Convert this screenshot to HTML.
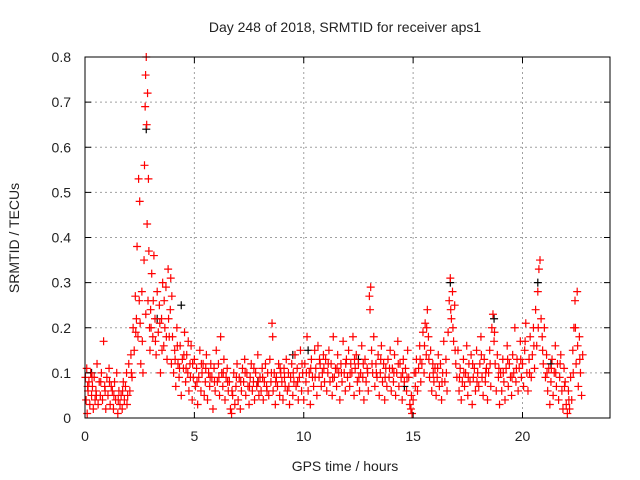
<!DOCTYPE html>
<html><head><meta charset="utf-8"><style>
html,body{margin:0;padding:0;background:#fff;}
svg{display:block;font-family:"Liberation Sans",sans-serif;}
</style></head><body>
<svg id="chart" width="640" height="480" viewBox="0 0 640 480">
<rect width="640" height="480" fill="#fff"/>
<g id="grid"></g>
<g id="pts"></g>
<g id="axes"></g>
<text x="345" y="32" font-size="14" text-anchor="middle" fill="#222">Day 248 of 2018, SRMTID for receiver aps1</text>
<text x="345" y="471" font-size="14" text-anchor="middle" fill="#222">GPS time / hours</text>
<text transform="translate(19,238) rotate(-90)" font-size="14" text-anchor="middle" fill="#222">SRMTID / TECUs</text>
</svg>
<script>
const xTicks=[0,5,10,15,20];
const yTicks=[0,0.1,0.2,0.3,0.4,0.5,0.6,0.7,0.8];
const yTickLabels=["0","0.1","0.2","0.3","0.4","0.5","0.6","0.7","0.8"];
const blackPoints=[[0.3,0.1],[2.8,0.64],[3.3,0.22],[4.4,0.25],[7.9,0.08],[9.5,0.14],[10.2,0.15],[12.5,0.13],[14.6,0.07],[16.7,0.3],[18.7,0.22],[20.7,0.3],[21.3,0.12]];
const redPoints=[[0.02,0.09],[0.05,0.04],[0.08,0.11],[0.1,0.01],[0.14,0.06],[0.18,0.08],[0.22,0.03],[0.26,0.1],[0.3,0.05],[0.34,0.07],[0.38,0.02],[0.42,0.09],[0.46,0.04],[0.5,0.06],[0.55,0.12],[0.6,0.03],[0.65,0.08],[0.7,0.05],[0.75,0.1],[0.8,0.04],[0.85,0.17],[0.9,0.07],[0.95,0.02],
[1.0,0.09],[1.05,0.05],[1.1,0.11],[1.15,0.03],[1.2,0.07],[1.25,0.06],[1.3,0.02],[1.35,0.08],[1.4,0.04],[1.45,0.1],[1.5,0.01],[1.55,0.06],[1.6,0.03],[1.65,0.05],[1.7,0.02],[1.75,0.08],[1.8,0.04],[1.85,0.07],[1.9,0.1],[1.95,0.05],
[2.0,0.12],[2.05,0.06],[2.1,0.14],[2.15,0.09],[2.2,0.2],[2.25,0.15],[2.3,0.27],[2.35,0.22],[2.38,0.38],[2.42,0.18],[2.45,0.53],[2.48,0.26],[2.5,0.48],[2.55,0.12],[2.6,0.28],[2.65,0.1],[2.7,0.35],[2.72,0.56],[2.75,0.69],[2.77,0.76],[2.8,0.8],[2.82,0.65],[2.84,0.43],[2.86,0.72],[2.88,0.26],[2.9,0.53],[2.92,0.37],[2.95,0.2],[2.97,0.15],[3.0,0.24],
[3.05,0.32],[3.1,0.18],[3.15,0.36],[3.2,0.22],[3.25,0.14],[3.3,0.28],[3.35,0.19],[3.4,0.25],[3.45,0.1],[3.5,0.22],[3.55,0.3],[3.6,0.16],[3.65,0.2],[3.7,0.29],[3.75,0.13],[3.8,0.33],[3.85,0.18],[3.9,0.24],[3.95,0.12],
[4.0,0.18],[4.05,0.1],[4.1,0.15],[4.15,0.07],[4.2,0.2],[4.25,0.12],[4.3,0.09],[4.35,0.16],[4.4,0.05],[4.45,0.13],[4.5,0.11],[4.55,0.19],[4.6,0.08],[4.65,0.14],[4.7,0.1],[4.75,0.06],[4.8,0.12],[4.85,0.16],[4.9,0.04],[4.95,0.09],
[5.0,0.13],[5.05,0.07],[5.1,0.11],[5.15,0.03],[5.2,0.09],[5.25,0.15],[5.3,0.06],[5.35,0.1],[5.4,0.12],[5.45,0.05],[5.5,0.08],[5.55,0.14],[5.6,0.04],[5.65,0.1],[5.7,0.07],[5.75,0.12],[5.8,0.09],[5.85,0.02],[5.9,0.11],[5.95,0.06],
[6.0,0.15],[6.05,0.08],[6.1,0.12],[6.15,0.05],[6.2,0.18],[6.25,0.1],[6.3,0.07],[6.35,0.13],[6.4,0.04],[6.45,0.09],[6.5,0.11],[6.55,0.06],[6.6,0.08],[6.65,0.02],[6.7,0.01],[6.75,0.05],[6.8,0.1],[6.85,0.03],[6.9,0.07],[6.95,0.12],
[7.0,0.04],[7.05,0.09],[7.1,0.02],[7.15,0.06],[7.2,0.11],[7.25,0.08],[7.3,0.13],[7.35,0.05],[7.4,0.1],[7.45,0.07],[7.5,0.03],[7.55,0.09],[7.6,0.12],[7.65,0.06],[7.7,0.08],[7.75,0.04],[7.8,0.1],[7.85,0.07],[7.9,0.14],[7.95,0.05],
[8.0,0.09],[8.05,0.06],[8.1,0.11],[8.15,0.04],[8.2,0.08],[8.25,0.12],[8.3,0.07],[8.35,0.1],[8.4,0.05],[8.45,0.13],[8.5,0.08],[8.55,0.21],[8.58,0.18],[8.6,0.06],[8.65,0.1],[8.7,0.03],[8.75,0.09],[8.8,0.07],[8.85,0.12],[8.9,0.05],[8.95,0.1],
[9.0,0.08],[9.05,0.04],[9.1,0.11],[9.15,0.07],[9.2,0.13],[9.25,0.06],[9.3,0.1],[9.35,0.03],[9.4,0.09],[9.45,0.12],[9.5,0.05],[9.55,0.08],[9.6,0.14],[9.65,0.07],[9.7,0.11],[9.75,0.04],[9.8,0.09],[9.85,0.15],[9.9,0.06],[9.95,0.1],
[10.0,0.04],[10.05,0.12],[10.1,0.08],[10.15,0.18],[10.2,0.06],[10.25,0.1],[10.3,0.03],[10.35,0.13],[10.4,0.09],[10.45,0.07],[10.5,0.15],[10.55,0.11],[10.6,0.05],[10.65,0.16],[10.7,0.09],[10.75,0.12],[10.8,0.07],[10.85,0.1],[10.9,0.14],[10.95,0.08],
[11.0,0.13],[11.05,0.06],[11.1,0.1],[11.15,0.15],[11.2,0.08],[11.25,0.12],[11.3,0.05],[11.35,0.18],[11.4,0.09],[11.45,0.11],[11.5,0.07],[11.55,0.14],[11.6,0.1],[11.65,0.04],[11.7,0.12],[11.75,0.08],[11.8,0.17],[11.85,0.1],[11.9,0.06],[11.95,0.13],
[12.0,0.09],[12.05,0.15],[12.1,0.07],[12.15,0.12],[12.2,0.1],[12.25,0.18],[12.3,0.05],[12.35,0.11],[12.4,0.14],[12.45,0.08],[12.5,0.12],[12.55,0.06],[12.6,0.1],[12.65,0.16],[12.7,0.09],[12.75,0.04],[12.8,0.13],[12.85,0.08],[12.9,0.11],[12.95,0.06],
[13.0,0.27],[13.03,0.24],[13.06,0.29],[13.1,0.15],[13.15,0.1],[13.2,0.18],[13.25,0.07],[13.3,0.12],[13.35,0.09],[13.4,0.14],[13.45,0.05],[13.5,0.1],[13.55,0.16],[13.6,0.08],[13.65,0.12],[13.7,0.04],[13.75,0.11],[13.8,0.07],[13.85,0.13],[13.9,0.09],[13.95,0.15],
[14.0,0.06],[14.05,0.11],[14.1,0.08],[14.15,0.14],[14.2,0.05],[14.25,0.1],[14.3,0.17],[14.35,0.07],[14.4,0.12],[14.45,0.09],[14.5,0.04],[14.55,0.13],[14.6,0.08],[14.65,0.11],[14.7,0.06],[14.75,0.15],[14.8,0.09],[14.85,0.03],[14.9,0.02],[14.95,0.01],
[15.0,0.04],[15.05,0.1],[15.1,0.07],[15.15,0.13],[15.2,0.06],[15.25,0.11],[15.3,0.16],[15.35,0.08],[15.4,0.12],[15.45,0.19],[15.5,0.1],[15.55,0.21],[15.6,0.14],[15.65,0.24],[15.7,0.18],[15.75,0.09],[15.8,0.15],[15.85,0.06],[15.9,0.12],[15.95,0.08],
[16.0,0.11],[16.05,0.05],[16.1,0.09],[16.15,0.14],[16.2,0.07],[16.25,0.12],[16.3,0.04],[16.35,0.1],[16.4,0.17],[16.45,0.08],[16.5,0.13],[16.55,0.06],[16.6,0.19],[16.65,0.26],[16.7,0.31],[16.75,0.22],[16.8,0.28],[16.85,0.17],[16.9,0.25],[16.95,0.12],
[17.0,0.09],[17.05,0.15],[17.1,0.06],[17.15,0.11],[17.2,0.04],[17.25,0.08],[17.3,0.13],[17.35,0.07],[17.4,0.1],[17.45,0.16],[17.5,0.05],[17.55,0.12],[17.6,0.08],[17.65,0.14],[17.7,0.03],[17.75,0.09],[17.8,0.11],[17.85,0.06],[17.9,0.15],[17.95,0.1],
[18.0,0.07],[18.05,0.12],[18.1,0.18],[18.15,0.09],[18.2,0.05],[18.25,0.13],[18.3,0.08],[18.35,0.11],[18.4,0.04],[18.45,0.1],[18.5,0.15],[18.55,0.07],[18.6,0.2],[18.65,0.23],[18.7,0.17],[18.75,0.12],[18.8,0.06],[18.85,0.14],[18.9,0.09],[18.95,0.03],
[19.0,0.1],[19.05,0.06],[19.1,0.13],[19.15,0.08],[19.2,0.04],[19.25,0.11],[19.3,0.16],[19.35,0.07],[19.4,0.12],[19.45,0.09],[19.5,0.05],[19.55,0.14],[19.6,0.1],[19.65,0.2],[19.7,0.08],[19.75,0.13],[19.8,0.06],[19.85,0.11],[19.9,0.17],[19.95,0.09],
[20.0,0.12],[20.05,0.07],[20.1,0.15],[20.15,0.21],[20.2,0.1],[20.25,0.06],[20.3,0.13],[20.35,0.18],[20.4,0.09],[20.45,0.14],[20.5,0.2],[20.55,0.11],[20.6,0.24],[20.65,0.16],[20.7,0.28],[20.75,0.33],[20.8,0.35],[20.85,0.22],[20.9,0.18],[20.95,0.12],
[21.0,0.2],[21.05,0.09],[21.1,0.14],[21.15,0.06],[21.2,0.11],[21.25,0.03],[21.3,0.08],[21.35,0.13],[21.4,0.05],[21.45,0.1],[21.5,0.16],[21.55,0.07],[21.6,0.12],[21.65,0.04],[21.7,0.09],[21.75,0.14],[21.8,0.06],[21.85,0.02],[21.9,0.11],[21.95,0.08],
[22.0,0.03],[22.05,0.01],[22.1,0.06],[22.15,0.02],[22.2,0.09],[22.25,0.04],[22.3,0.15],[22.35,0.2],[22.4,0.26],[22.45,0.12],[22.5,0.28],[22.55,0.07],[22.6,0.18],[22.65,0.1],[22.7,0.05],[22.75,0.14]];
const redPointsExtra=[[0.12,0.07],[0.32,0.09],[0.52,0.05],[0.72,0.08],[0.92,0.06],[1.12,0.08],[1.32,0.05],[1.52,0.04],[1.72,0.06],[1.92,0.03],
[2.12,0.1],[2.32,0.19],[2.52,0.21],[2.62,0.17],[2.78,0.23],[3.02,0.2],[3.12,0.26],[3.22,0.17],[3.42,0.21],[3.52,0.15],[3.62,0.26],[3.72,0.18],[3.82,0.22],[3.92,0.31],[3.97,0.27],
[4.12,0.13],[4.22,0.16],[4.32,0.11],[4.52,0.14],[4.62,0.11],[4.72,0.17],[4.82,0.09],[4.92,0.12],
[5.12,0.08],[5.32,0.12],[5.52,0.11],[5.72,0.09],[5.92,0.08],[6.12,0.09],[6.32,0.1],[6.52,0.08],[6.72,0.06],[6.92,0.09],
[7.12,0.08],[7.32,0.1],[7.52,0.07],[7.72,0.11],[7.92,0.08],[8.12,0.09],[8.32,0.06],[8.52,0.1],[8.72,0.08],[8.92,0.11],
[9.12,0.09],[9.32,0.07],[9.52,0.1],[9.72,0.08],[9.92,0.12],[10.12,0.1],[10.32,0.11],[10.52,0.09],[10.72,0.13],[10.92,0.11],
[11.12,0.12],[11.32,0.09],[11.52,0.11],[11.72,0.1],[11.92,0.12],[12.12,0.1],[12.32,0.13],[12.52,0.09],[12.72,0.12],[12.92,0.1],
[13.12,0.12],[13.32,0.1],[13.52,0.13],[13.72,0.09],[13.92,0.11],[14.12,0.1],[14.32,0.12],[14.52,0.1],[14.72,0.09],[14.92,0.05],
[15.12,0.1],[15.32,0.13],[15.52,0.16],[15.62,0.2],[15.72,0.13],[15.92,0.1],[16.12,0.11],[16.32,0.08],[16.52,0.1],[16.72,0.24],[16.82,0.2],[16.92,0.15],
[17.12,0.09],[17.32,0.1],[17.52,0.09],[17.72,0.12],[17.92,0.08],[18.12,0.14],[18.32,0.1],[18.52,0.12],[18.72,0.19],[18.92,0.11],
[19.12,0.1],[19.32,0.13],[19.52,0.09],[19.72,0.11],[19.92,0.13],[20.12,0.17],[20.32,0.1],[20.52,0.16],[20.72,0.2],[20.92,0.15],
[21.12,0.1],[21.32,0.11],[21.52,0.1],[21.72,0.12],[21.92,0.07],[22.12,0.04],[22.32,0.1],[22.42,0.2],[22.52,0.16],[22.62,0.13]];

const L=85,R=610,T=57,B=418,XMAX=24,YMAX=0.8;
function sx(v){return L+(R-L)*v/XMAX;}
function sy(v){return B-(B-T)*v/YMAX;}
const NS="http://www.w3.org/2000/svg";
function mk(tag,attrs,parent){const e=document.createElementNS(NS,tag);for(const k in attrs)e.setAttribute(k,attrs[k]);parent.appendChild(e);return e;}
const grid=document.getElementById('grid'),axes=document.getElementById('axes'),pts=document.getElementById('pts');
xTicks.forEach(function(t){
  const x=sx(t);
  if(t>0){const g=mk('line',{x1:x,y1:T,x2:x,y2:B,stroke:'#a0a0a0','stroke-dasharray':'2,3'},grid);
  
  }
  mk('line',{x1:x,y1:B,x2:x,y2:B-6,stroke:'#000'},axes);
  mk('line',{x1:x,y1:T,x2:x,y2:T+6,stroke:'#000'},axes);
  const tx=mk('text',{x:x,y:B+23,'font-size':14,'text-anchor':'middle',fill:'#222'},axes);
  tx.textContent=String(t);
  
  
});
yTicks.forEach(function(t,i){
  const y=sy(t);
  if(t>0){const g=mk('line',{x1:L,y1:y,x2:R,y2:y,stroke:'#a0a0a0','stroke-dasharray':'2,3'},grid);
  
  }
  mk('line',{x1:L,y1:y,x2:L+6,y2:y,stroke:'#000'},axes);
  mk('line',{x1:R,y1:y,x2:R-6,y2:y,stroke:'#000'},axes);
  const tx=mk('text',{x:L-14,y:y+5,'font-size':14,'text-anchor':'end',fill:'#222'},axes);
  tx.textContent=yTickLabels[i];
  
  
});
const frame=mk('rect',{x:L,y:T,width:R-L,height:B-T,fill:'none',stroke:'#000'},axes);


function plus(p,color,name){
  const x=sx(p[0]),y=sy(p[1]);
  const e=mk('path',{d:'M'+(x-4)+' '+y+'H'+(x+4)+'M'+x+' '+(y-4)+'V'+(y+4),stroke:color,'stroke-width':1.2,fill:'none'},pts);
  
  
}
blackPoints.forEach(function(p){plus(p,'#000','black-point');});
redPoints.forEach(function(p){plus(p,'#ff0000','red-point');});
redPointsExtra.forEach(function(p){plus(p,'#ff0000','red-point');});
</script>
</body></html>
